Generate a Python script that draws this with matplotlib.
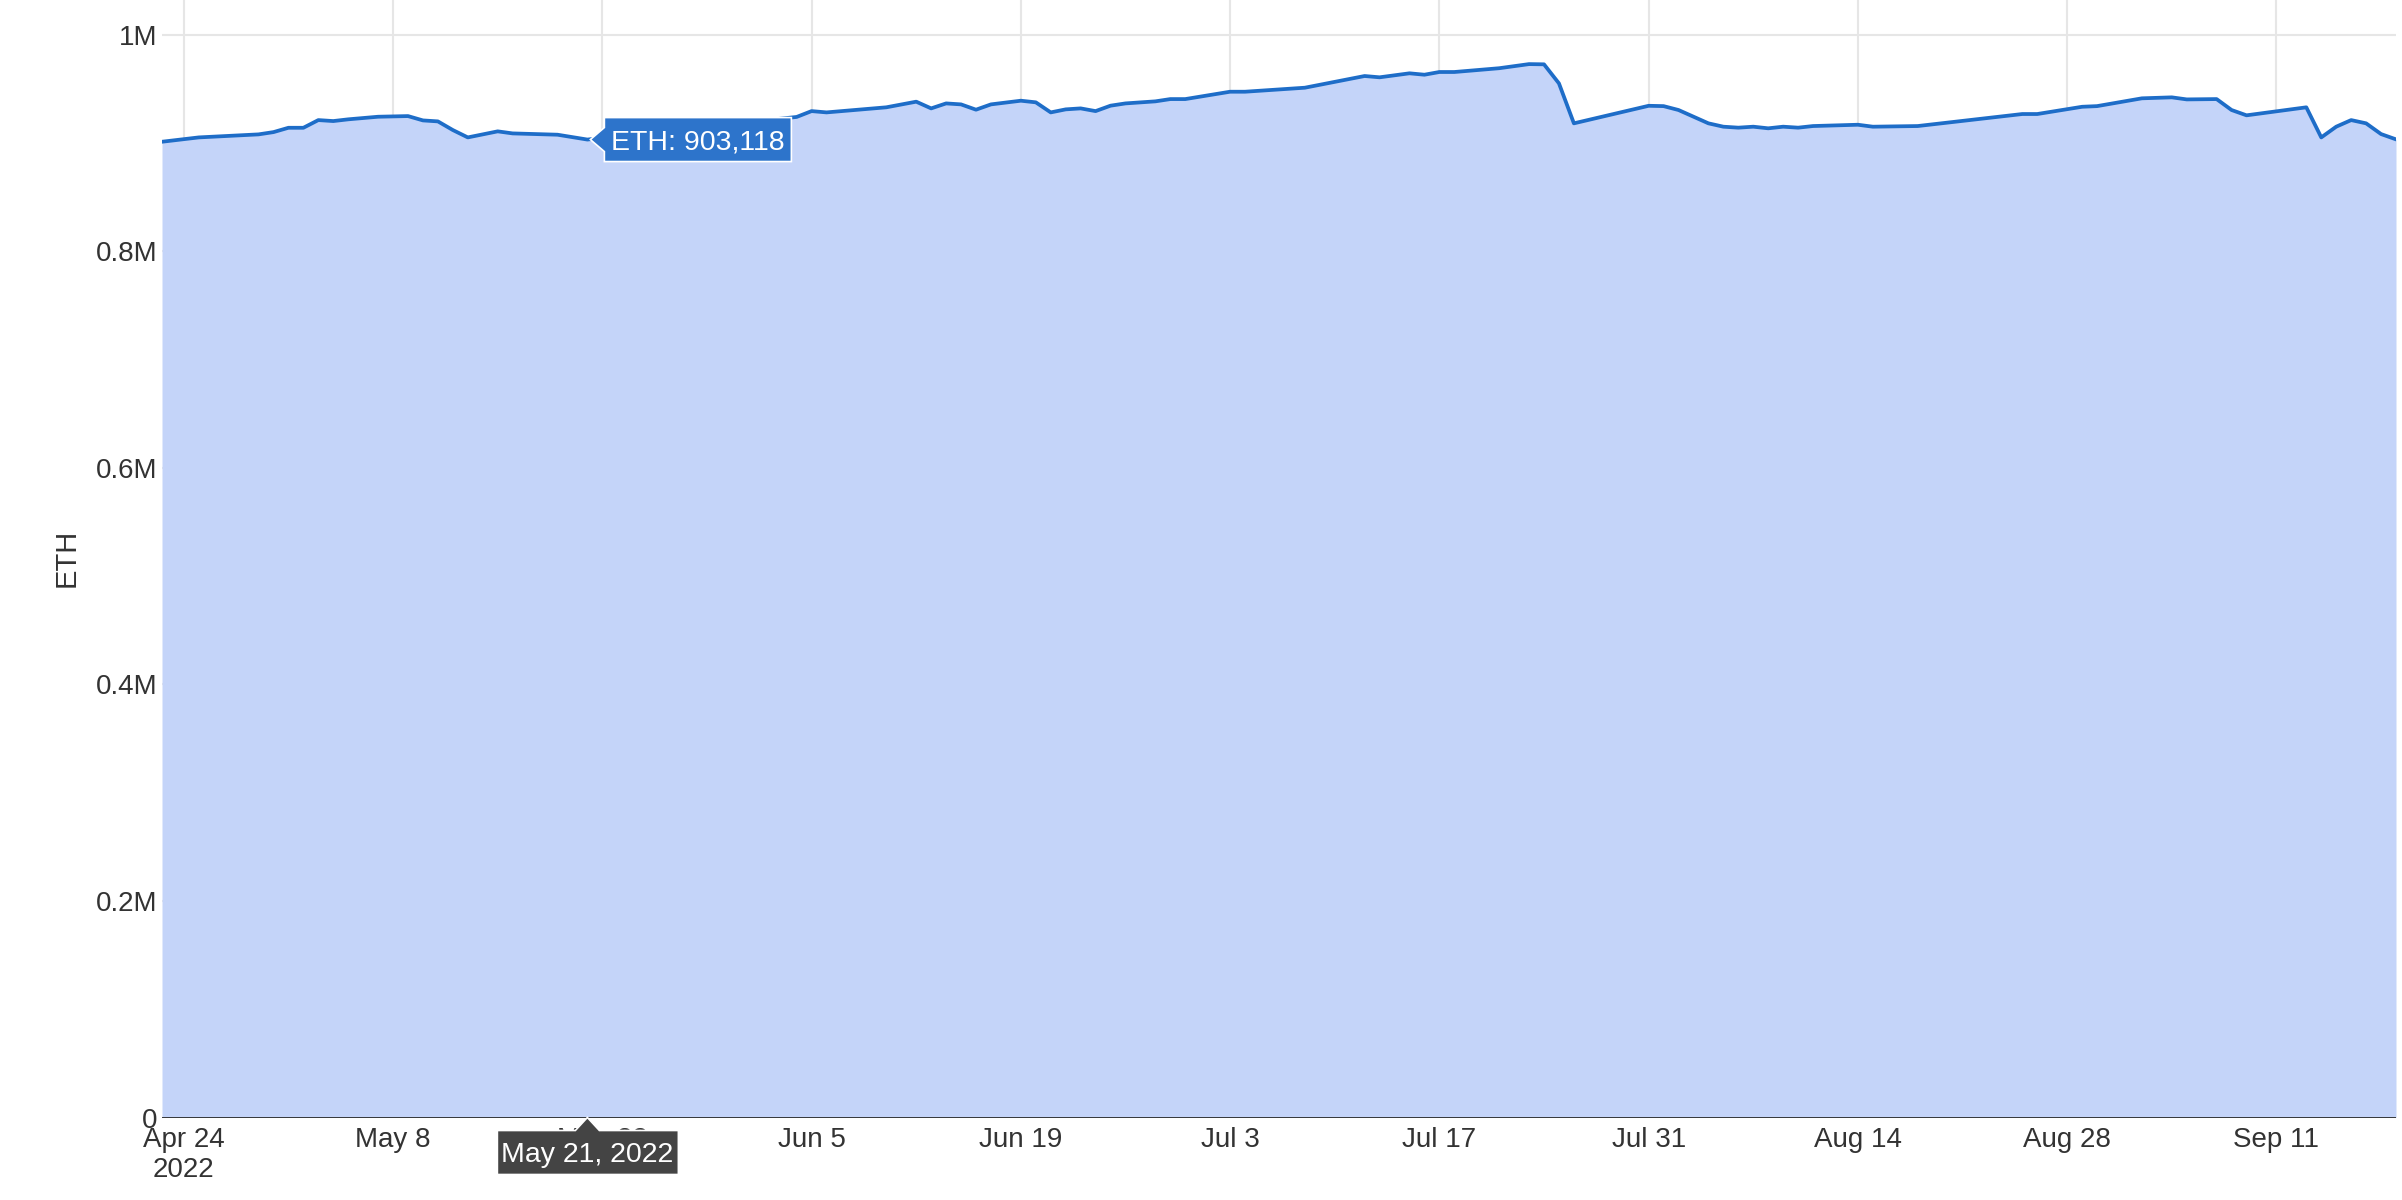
import matplotlib.pyplot as plt
import matplotlib.patches as mpatches
import matplotlib.dates as mdates
import pandas as pd

# ETH balance (vertices of the line)
dates = [
    "2022-04-22 13:00", "2022-04-25", "2022-04-29", "2022-04-30", "2022-05-01", "2022-05-02",
    "2022-05-03", "2022-05-04", "2022-05-05", "2022-05-07", "2022-05-09", "2022-05-10",
    "2022-05-11", "2022-05-12", "2022-05-13", "2022-05-15", "2022-05-16", "2022-05-19",
    "2022-05-21", "2022-06-04", "2022-06-05", "2022-06-06", "2022-06-10", "2022-06-12",
    "2022-06-13", "2022-06-14", "2022-06-15", "2022-06-16", "2022-06-17", "2022-06-19",
    "2022-06-20", "2022-06-21", "2022-06-22", "2022-06-23", "2022-06-24", "2022-06-25",
    "2022-06-26", "2022-06-28", "2022-06-29", "2022-06-30", "2022-07-03", "2022-07-04",
    "2022-07-08", "2022-07-12", "2022-07-13", "2022-07-15", "2022-07-16", "2022-07-17",
    "2022-07-18", "2022-07-21", "2022-07-23", "2022-07-24", "2022-07-25", "2022-07-26",
    "2022-07-31", "2022-08-01", "2022-08-02", "2022-08-04", "2022-08-05", "2022-08-06",
    "2022-08-07", "2022-08-08", "2022-08-09", "2022-08-10", "2022-08-11", "2022-08-14",
    "2022-08-15", "2022-08-18", "2022-08-25", "2022-08-26", "2022-08-29", "2022-08-30",
    "2022-09-02", "2022-09-04", "2022-09-05", "2022-09-07", "2022-09-08", "2022-09-09",
    "2022-09-13", "2022-09-14", "2022-09-15", "2022-09-16", "2022-09-17", "2022-09-18",
    "2022-09-19",
]
eth = [
    901100, 905100, 907900, 910000, 914000, 914000,
    921100, 920200, 921800, 924200, 924800, 920800,
    919900, 911900, 905100, 910700, 908800, 907600,
    903118, 924000, 929400, 928200, 932900, 938100,
    931900, 936500, 935600, 930700, 935600, 939000,
    937500, 928200, 931000, 931900, 929400, 934400,
    936500, 938400, 940500, 940500, 947300, 947300,
    951000, 961800, 960600, 964300, 963000, 965500,
    965500, 969000, 972800, 972600, 955000, 918100,
    934300, 934000, 930400, 918100, 915000, 914100,
    915000, 913500, 915000, 914100, 915600, 916800,
    915000, 915600, 926700, 926700, 933400, 934000,
    941200, 942100, 940200, 940500, 930400, 925500,
    932900, 905100, 915000, 921100, 918100, 908200,
    903300,
]

tick_dates = ["2022-04-24", "2022-05-08", "2022-05-22", "2022-06-05", "2022-06-19", "2022-07-03",
              "2022-07-17", "2022-07-31", "2022-08-14", "2022-08-28", "2022-09-11"]
tick_labels = ["Apr 24\n2022", "May 8", "May 22", "Jun 5", "Jun 19", "Jul 3",
               "Jul 17", "Jul 31", "Aug 14", "Aug 28", "Sep 11"]
y_ticks = [0, 200000, 400000, 600000, 800000, 1000000]
y_labels = ["0", "0.2M", "0.4M", "0.6M", "0.8M", "1M"]

hover_date = "2022-05-21"
hover_text = "ETH: 903,118"
hover_label = "May 21, 2022"

W, H = 2402, 1200
plt.rcParams['font.family'] = ['Liberation Sans', 'DejaVu Sans']
text_color = '#333333'

x = pd.to_datetime(dates, format='mixed')
fig = plt.figure(figsize=(W / 100, H / 100), dpi=100)
ax = fig.add_axes([162 / W, 82.5 / H, (2396 - 162) / W, 1117.5 / H])

ax.fill_between(x, eth, color='#c4d4f9', lw=0, zorder=2)
ax.plot(x, eth, color='#1e6dc8', lw=2.7, zorder=3)
ax.axhline(0, color='#2b2b2b', lw=1.3, zorder=4)

ax.set_xlim(x[0], x[-1])
ax.set_ylim(0, 1032000)
ax.set_xticks(pd.to_datetime(tick_dates))
ax.set_xticklabels(tick_labels)
ax.set_yticks(y_ticks)
ax.set_yticklabels(y_labels)
ax.tick_params(axis='both', length=0, labelsize=20, labelcolor=text_color)
ax.tick_params(axis='x', pad=7)
ax.tick_params(axis='y', pad=3)
ax.grid(True, color='#e6e6e6', lw=1.5, zorder=0)
ax.set_axisbelow(True)
for s in ax.spines.values():
    s.set_visible(False)

fig.text(67 / W, (H - 558) / H, "ETH", rotation=90, fontsize=21, color=text_color,
         ha='center', va='center')

# hover labels, placed from the hovered point
hx = mdates.date2num(pd.Timestamp(hover_date))
px, py = ax.transData.transform((hx, eth[dates.index(hover_date)]))
box = [(px + 3, py), (px + 17, py + 12), (px + 17, py + 22), (px + 204, py + 22),
       (px + 204, py - 22), (px + 17, py - 22), (px + 17, py - 12)]
fig.add_artist(mpatches.Polygon([(a / W, b / H) for a, b in box], closed=True,
                                transform=fig.transFigure, facecolor='#2d74cb',
                                edgecolor='white', lw=1.2, zorder=5))
fig.text((px + 110.5) / W, py / H, hover_text, color='white', fontsize=20.5,
         ha='center', va='center_baseline', zorder=6)

base = 82.5
dbox = [(px, base), (px + 12, base - 13), (px + 91, base - 13), (px + 91, base - 57),
        (px - 90, base - 57), (px - 90, base - 13), (px - 12, base - 13)]
fig.add_artist(mpatches.Polygon([(a / W, b / H) for a, b in dbox], closed=True,
                                transform=fig.transFigure, facecolor='#444444',
                                edgecolor='white', lw=1.2, zorder=5))
fig.text(px / W, (base - 35) / H, hover_label, color='white', fontsize=20.5,
         ha='center', va='center_baseline', zorder=6)

fig.savefig('out.png', dpi=100)
